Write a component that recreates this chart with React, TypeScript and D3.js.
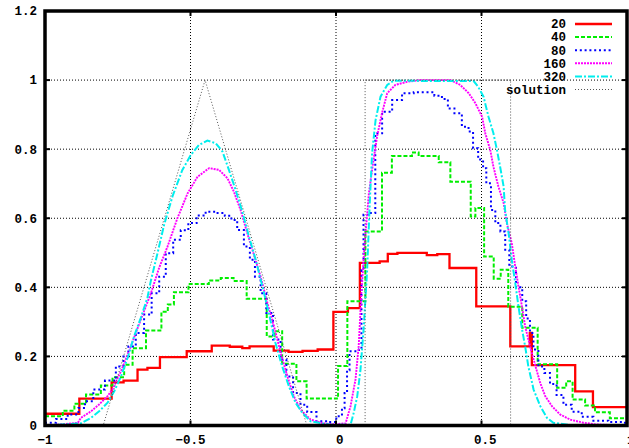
import React from 'react';
import * as d3 from 'd3';

const W = 629;
const H = 448;
const PLOT = { left: 45, right: 627, top: 11, bottom: 425.5 };

const xTicks = [-1, -0.5, 0, 0.5, 1];
const yTicks = [0, 0.2, 0.4, 0.6, 0.8, 1, 1.2];

// 20 cells: cell edges and cell values
const edges20 = [-1, -0.882, -0.771, -0.73, -0.682, -0.648, -0.605, -0.513, -0.427, -0.365, -0.322, -0.297,
  -0.214, -0.163, -0.115, -0.063, -0.009, 0.041, 0.082, 0.15, 0.178, 0.211, 0.312, 0.348, 0.39, 0.482,
  0.599, 0.666, 0.673, 0.822, 0.883, 1];
const vals20 = [0.034, 0.078, 0.125, 0.13, 0.162, 0.167, 0.198, 0.215, 0.231, 0.228, 0.224, 0.229, 0.217,
  0.213, 0.216, 0.22, 0.329, 0.34, 0.471, 0.475, 0.497, 0.5, 0.493, 0.496, 0.456, 0.345, 0.229, 0.268,
  0.175, 0.099, 0.053];

// 40 cells
const edges40 = [-1, -0.939, -0.899, -0.859, -0.808, -0.768, -0.728, -0.699, -0.653, -0.6, -0.578, -0.557,
  -0.507, -0.437, -0.396, -0.352, -0.307, -0.238, -0.211, -0.185, -0.136, -0.101, 0.007, 0.039, 0.101,
  0.158, 0.192, 0.261, 0.284, 0.353, 0.393, 0.463, 0.479, 0.509, 0.542, 0.566, 0.592, 0.64, 0.693, 0.76,
  0.791, 0.813, 0.856, 0.89, 0.941, 1];
const vals40 = [0.027, 0.043, 0.063, 0.09, 0.116, 0.14, 0.176, 0.224, 0.275, 0.329, 0.35, 0.386, 0.41,
  0.42, 0.427, 0.418, 0.367, 0.258, 0.273, 0.179, 0.128, 0.078, 0.172, 0.36, 0.562, 0.732, 0.78, 0.79,
  0.78, 0.762, 0.706, 0.605, 0.63, 0.489, 0.425, 0.451, 0.344, 0.283, 0.177, 0.109, 0.128, 0.075, 0.058,
  0.038, 0.021];

// 80 cells (sampled)
const x80 = [-1, -0.979, -0.945, -0.899, -0.871, -0.854, -0.814, -0.774, -0.739, -0.722, -0.705, -0.671,
  -0.648, -0.619, -0.596, -0.574, -0.545, -0.522, -0.493, -0.465, -0.431, -0.396, -0.368, -0.351, -0.328,
  -0.305, -0.287, -0.27, -0.248, -0.231, -0.202, -0.179, -0.162, -0.133, -0.111, -0.087, -0.047, -0.013,
  0.015, 0.026, 0.033, 0.043, 0.05, 0.074, 0.084, 0.091, 0.098, 0.129, 0.141, 0.176, 0.21, 0.244, 0.29,
  0.324, 0.352, 0.376, 0.393, 0.421, 0.444, 0.467, 0.475, 0.502, 0.509, 0.524, 0.541, 0.554, 0.576,
  0.587, 0.604, 0.633, 0.647, 0.66, 0.673, 0.684, 0.707, 0.725, 0.746, 0.77, 0.793, 0.827, 0.862, 0.907,
  0.965, 1];
const y80 = [0.008, 0.008, 0.019, 0.032, 0.051, 0.07, 0.104, 0.13, 0.171, 0.2, 0.229, 0.268, 0.321, 0.383,
  0.431, 0.499, 0.538, 0.565, 0.586, 0.608, 0.619, 0.615, 0.607, 0.595, 0.566, 0.518, 0.48, 0.431, 0.383,
  0.326, 0.249, 0.191, 0.142, 0.094, 0.06, 0.039, 0.012, 0.01, 0.027, 0.05, 0.094, 0.16, 0.215, 0.215,
  0.22, 0.45, 0.61, 0.615, 0.846, 0.908, 0.942, 0.962, 0.965, 0.965, 0.955, 0.945, 0.918, 0.904, 0.865,
  0.851, 0.803, 0.77, 0.745, 0.701, 0.624, 0.586, 0.562, 0.509, 0.46, 0.4, 0.36, 0.31, 0.268, 0.22, 0.171,
  0.152, 0.12, 0.088, 0.06, 0.04, 0.025, 0.014, 0.01, 0.008];

// 160 cells (sampled)
const x160 = [-1, -0.935, -0.887, -0.877, -0.842, -0.814, -0.785, -0.768, -0.739, -0.705, -0.671, -0.636,
  -0.608, -0.579, -0.545, -0.51, -0.476, -0.436, -0.402, -0.373, -0.351, -0.328, -0.305, -0.282, -0.259,
  -0.236, -0.213, -0.19, -0.167, -0.145, -0.122, -0.087, -0.042, -0.009, 0.033, 0.05, 0.067, 0.078, 0.087,
  0.098, 0.113, 0.124, 0.141, 0.158, 0.176, 0.204, 0.244, 0.29, 0.393, 0.427, 0.456, 0.479, 0.502, 0.513,
  0.53, 0.541, 0.558, 0.576, 0.587, 0.604, 0.616, 0.627, 0.639, 0.65, 0.667, 0.684, 0.702, 0.719, 0.742,
  0.77, 0.805, 0.85, 0.896, 1];
const y160 = [0, 0.004, 0.008, 0.022, 0.041, 0.061, 0.085, 0.105, 0.157, 0.229, 0.306, 0.383, 0.456, 0.518,
  0.6, 0.672, 0.72, 0.745, 0.74, 0.716, 0.677, 0.624, 0.557, 0.494, 0.431, 0.355, 0.287, 0.21, 0.142,
  0.085, 0.046, 0.017, 0.006, 0.004, 0.006, 0.056, 0.133, 0.23, 0.38, 0.52, 0.672, 0.74, 0.836, 0.904,
  0.962, 0.986, 0.995, 1, 1, 0.986, 0.962, 0.933, 0.894, 0.846, 0.798, 0.749, 0.692, 0.644, 0.586, 0.528,
  0.46, 0.403, 0.345, 0.287, 0.229, 0.176, 0.123, 0.085, 0.056, 0.032, 0.017, 0.008, 0.003, 0];

// 320 cells (sampled)
const x320 = [-1, -0.877, -0.842, -0.814, -0.785, -0.762, -0.739, -0.716, -0.694, -0.671, -0.648, -0.636,
  -0.613, -0.591, -0.562, -0.528, -0.499, -0.471, -0.442, -0.413, -0.39, -0.368, -0.345, -0.322, -0.299,
  -0.276, -0.253, -0.231, -0.208, -0.185, -0.162, -0.139, -0.116, -0.087, -0.019, 0.05, 0.061, 0.073,
  0.084, 0.095, 0.107, 0.116, 0.124, 0.136, 0.153, 0.176, 0.198, 0.473, 0.489, 0.507, 0.524, 0.541, 0.553,
  0.564, 0.576, 0.581, 0.593, 0.604, 0.616, 0.627, 0.639, 0.65, 0.661, 0.679, 0.702, 0.725, 0.747, 0.805, 1];
const y320 = [0, 0.006, 0.022, 0.041, 0.066, 0.099, 0.142, 0.196, 0.258, 0.311, 0.37, 0.42, 0.5, 0.58,
  0.663, 0.74, 0.783, 0.812, 0.825, 0.817, 0.793, 0.74, 0.682, 0.619, 0.547, 0.48, 0.403, 0.326, 0.239,
  0.171, 0.114, 0.066, 0.037, 0.012, 0.002, 0.002, 0.037, 0.085, 0.16, 0.28, 0.45, 0.644, 0.788, 0.884,
  0.952, 0.986, 0.998, 0.997, 0.98, 0.952, 0.894, 0.846, 0.798, 0.749, 0.692, 0.624, 0.557, 0.48, 0.412,
  0.345, 0.28, 0.229, 0.171, 0.104, 0.056, 0.022, 0.008, 0.001, 0];

// exact solution
const solX = [-1, -0.8, -0.45, -0.1, 0.1, 0.1, 0.6, 0.6, 1];
const solY = [0, 0, 1, 0, 0, 1, 1, 0, 0];

const FONT = "'Liberation Mono', 'DejaVu Sans Mono', monospace";

const stepPoints = (edges: number[], vals: number[]) => {
  const pts: [number, number][] = vals.map((v, i) => [edges[i], v]);
  pts.push([edges[edges.length - 1], vals[vals.length - 1]]);
  return pts;
};
const zipPoints = (xs: number[], ys: number[]) =>
  xs.slice(0, Math.min(xs.length, ys.length)).map((x, i) => [x, ys[i]] as [number, number]);

const series = [
  { name: '20', color: '#ff0000', width: 2.3, dash: null, curve: d3.curveStepAfter, pts: stepPoints(edges20, vals20) },
  { name: '40', color: '#00ee00', width: 2, dash: '4,2', curve: d3.curveStepAfter, pts: stepPoints(edges40, vals40) },
  { name: '80', color: '#0000ff', width: 2, dash: '2,2.8', curve: d3.curveStep, pts: zipPoints(x80, y80) },
  { name: '160', color: '#ff00ff', width: 1.9, dash: '2,1', curve: d3.curveLinear, pts: zipPoints(x160, y160) },
  { name: '320', color: '#00eeee', width: 2, dash: '7,2,2,2', curve: d3.curveLinear, pts: zipPoints(x320, y320) },
  { name: 'solution', color: '#555555', width: 1, dash: '1,2', curve: d3.curveLinear, pts: zipPoints(solX, solY) },
];

export default function App() {
  const x = d3.scaleLinear().domain([-1, 1]).range([PLOT.left, PLOT.right]);
  const y = d3.scaleLinear().domain([0, 1.2]).range([PLOT.bottom, PLOT.top]);

  const line = (curve: d3.CurveFactory) =>
    d3.line<[number, number]>().x(d => x(d[0])).y(d => y(d[1])).curve(curve);

  const charW = 7.6;

  return (
    <svg width={W} height={H} style={{ position: 'absolute', left: 0, top: 0, display: 'block', background: '#fff' }}>
      <defs>
        <clipPath id="plot">
          <rect x={PLOT.left} y={PLOT.top} width={PLOT.right - PLOT.left} height={PLOT.bottom - PLOT.top} />
        </clipPath>
      </defs>

      {/* grid */}
      <g stroke="#000" strokeWidth={1} strokeDasharray="1,2">
        {yTicks.slice(1, -1).map(t => (
          <line key={'gy' + t} x1={PLOT.left} x2={PLOT.right} y1={y(t)} y2={y(t)} />
        ))}
        {xTicks.slice(1, -1).map(t => (
          <line key={'gx' + t} x1={x(t)} x2={x(t)} y1={PLOT.top} y2={PLOT.bottom} />
        ))}
      </g>

      {/* series */}
      <g clipPath="url(#plot)" fill="none">
        {series.map(s => (
          <path key={s.name} d={line(s.curve)(s.pts) || ''} stroke={s.color} strokeWidth={s.width}
            strokeDasharray={s.dash || undefined} strokeLinejoin="miter" />
        ))}
      </g>

      {/* ticks */}
      <g stroke="#000" strokeWidth={2}>
        {yTicks.slice(1, -1).map(t => (
          <g key={'ty' + t}>
            <line x1={PLOT.left} x2={PLOT.left + 5} y1={y(t)} y2={y(t)} />
            <line x1={PLOT.right} x2={PLOT.right - 5} y1={y(t)} y2={y(t)} />
          </g>
        ))}
        {xTicks.slice(1, -1).map(t => (
          <g key={'tx' + t}>
            <line x1={x(t)} x2={x(t)} y1={PLOT.bottom} y2={PLOT.bottom - 5} />
            <line x1={x(t)} x2={x(t)} y1={PLOT.top} y2={PLOT.top + 5} />
          </g>
        ))}
      </g>

      {/* border */}
      <rect x={PLOT.left} y={PLOT.top} width={PLOT.right - PLOT.left} height={PLOT.bottom - PLOT.top}
        fill="none" stroke="#000" strokeWidth={3.5} />

      {/* tick labels */}
      <g fontFamily={FONT} fontWeight="bold" fontSize={12.5} fill="#000">
        {yTicks.map(t => (
          <text key={'ly' + t} x={37} y={y(t)} dy="0.35em" textAnchor="end">{d3.format('')(t)}</text>
        ))}
        {xTicks.map(t => (
          <text key={'lx' + t} x={x(t) + (t >= 0 ? charW / 2 : 0)} y={444} textAnchor="middle">{d3.format('')(t)}</text>
        ))}
      </g>

      {/* legend */}
      <g fontFamily={FONT} fontWeight="bold" fontSize={12.5} fill="#000">
        {series.map((s, i) => {
          const ly = 24 + i * 13.1;
          return (
            <g key={'leg' + s.name}>
              <text x={566} y={ly} dy="0.35em" textAnchor="end">{s.name}</text>
              <line x1={575} x2={612} y1={ly} y2={ly} stroke={s.color} strokeWidth={s.width}
                strokeDasharray={s.dash || undefined} />
            </g>
          );
        })}
      </g>
    </svg>
  );
}
